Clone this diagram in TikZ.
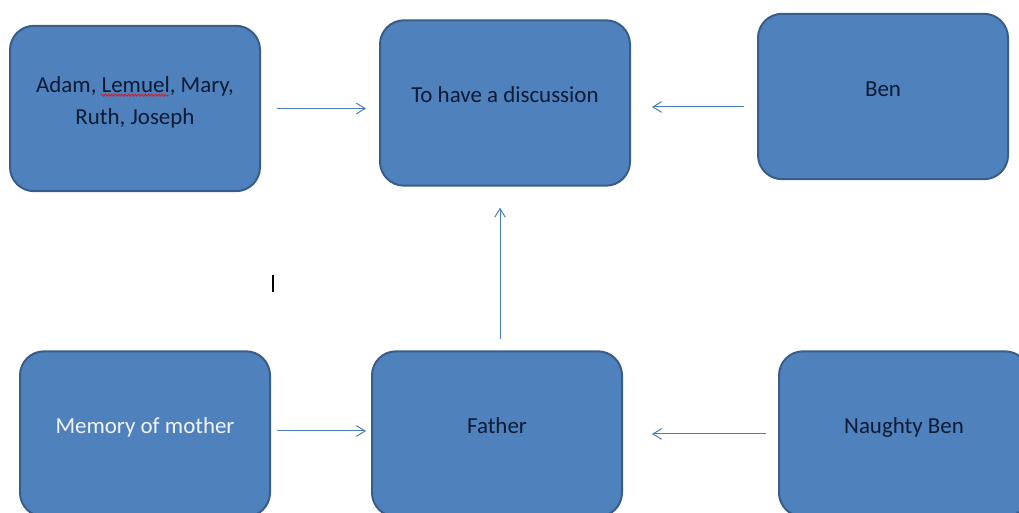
\documentclass[tikz,border=0pt]{standalone}
\usepackage{fontspec}
\setmainfont{Carlito}
\usepackage{tikz}
\usetikzlibrary{arrows.meta}
\usetikzlibrary{decorations.pathmorphing}
\definecolor{boxfill}{HTML}{4F81BD}
\definecolor{boxline}{HTML}{385D8A}
\definecolor{arrowcol}{HTML}{4A7EBB}
\definecolor{boxtext}{HTML}{0C1A33}
\tikzset{box/.style={draw=boxline, line width=1.5pt, fill=boxfill, rounded corners=18pt,
    minimum width=187.5pt, minimum height=124pt, text=boxtext, align=center,
    text height=12pt, text depth=12pt, font=\fontsize{17.2}{24}\selectfont}}
\tikzset{arrow/.style={draw=arrowcol, line width=0.75pt, -{Straight Barb[length=6.5pt,width=8pt]}}}
\tikzset{spell wave/.style={draw=red, line width=0.5pt, decorate, decoration={snake, segment length=2.5pt, amplitude=0.8pt}}}

\begin{document}
\begin{tikzpicture}[x=0.75pt,y=0.75pt]
\useasboundingbox (0,0) rectangle (1019,513);
\clip (0,0) rectangle (1019,513);

% top row
\node[box, text height=36pt] (adam) at (135,404.5) {Adam, Lemuel, Mary,\\ Ruth, Joseph};
\node[box] (talk) at (505,410) {To have a discussion};
\node[box] (ben) at (883,416.5) {Ben};

% bottom row
\node[box, text=white!92!boxfill] (memory) at (145,79) {Memory of mother};
\node[box] (father) at (497,79) {Father};
\node[box] (naughty) at (904,79) {Naughty Ben};

% spelling mark under Lemuel
\draw[spell wave] ([shift={(-25.6pt,10pt)}]adam.center) -- ([shift={(25.6pt,10pt)}]adam.center);

\draw[arrow, shorten <=12pt, shorten >=9.75pt] (adam.east) -- (adam.east -| talk.west);
\draw[arrow, shorten <=9.75pt, shorten >=15.75pt] ([yshift=-3pt]talk.east -| ben.west) -- ([yshift=-3pt]talk.east);
\draw[arrow, shorten <=8.25pt, shorten >=15.75pt] ([xshift=2.25pt]father.north) -- ([xshift=2.25pt]father.north |- talk.south);
\draw[arrow, shorten <=4.5pt, shorten >=3.75pt] ([yshift=2.25pt]memory.east) -- ([yshift=2.25pt]father.west);
\draw[arrow, shorten <=9pt, shorten >=21.75pt] (naughty.west) -- (father.east);

%\node at (273,230) {I};
\draw[line width=1.5pt] (273,238) -- (273,221);
\end{tikzpicture}
\end{document}
